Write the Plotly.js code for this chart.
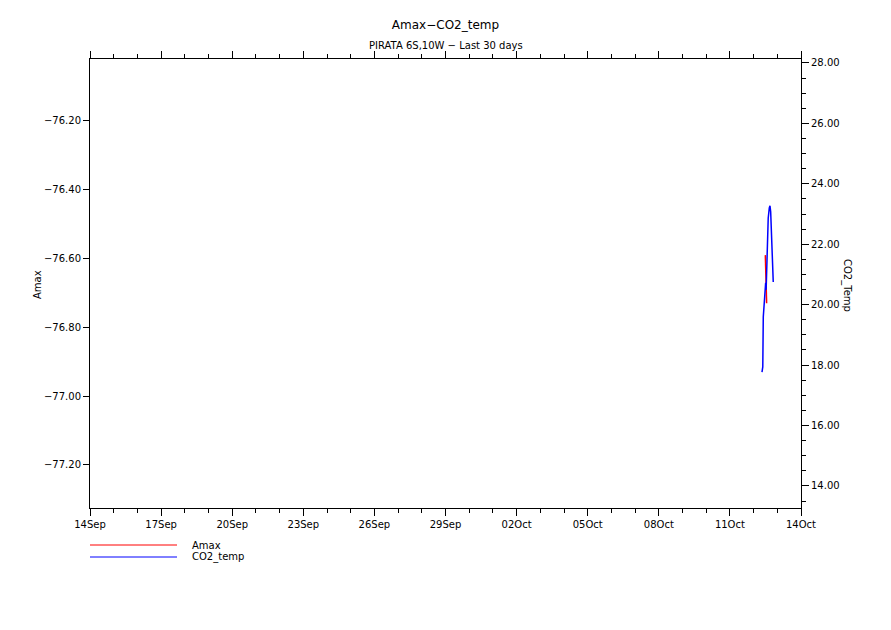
<!DOCTYPE html>
<html>
<head>
<meta charset="utf-8">
<script src="https://cdn.plot.ly/plotly-3.0.1.min.js"></script>
<style>html,body{margin:0;padding:0;background:#fff;}#chart{width:891px;height:630px;}</style>
</head>
<body>
<div id="chart"></div>
<script>
// Amax (left axis)
var amaxTime = ['2024-10-12 11:53', '2024-10-12 12:18', '2024-10-12 13:12'];
var amaxValue = [-76.590, -76.663, -76.730];

// CO2_temp (right axis)
var co2Time = ['2024-10-12 08:30', '2024-10-12 09:18', '2024-10-12 09:48', '2024-10-12 10:48',
               '2024-10-12 11:30', '2024-10-12 12:12', '2024-10-12 12:42', '2024-10-12 13:12',
               '2024-10-12 14:00', '2024-10-12 14:48', '2024-10-12 15:54', '2024-10-12 16:36',
               '2024-10-12 17:18', '2024-10-12 18:18', '2024-10-12 19:18', '2024-10-12 19:54'];
var co2Value = [17.77, 17.94, 19.59, 20.06, 20.32, 20.72, 20.49, 21.05,
                21.41, 22.87, 23.20, 23.27, 23.07, 22.37, 21.41, 20.75];

var xTickVals = ['2024-09-14','2024-09-17','2024-09-20','2024-09-23','2024-09-26','2024-09-29',
                 '2024-10-02','2024-10-05','2024-10-08','2024-10-11','2024-10-14'];
var xTickText = ['14Sep','17Sep','20Sep','23Sep','26Sep','29Sep','02Oct','05Oct','08Oct','11Oct','14Oct'];
var leftTicks = [-76.2, -76.4, -76.6, -76.8, -77.0, -77.2];
var rightTicks = [14, 16, 18, 20, 22, 24, 26, 28];

var FONT = 'DejaVu Sans, Liberation Sans, sans-serif';

var traces = [
  {x: amaxTime, y: amaxValue, type: 'scatter', mode: 'lines', name: 'Amax',
   line: {color: '#ff0000', width: 1.5}, yaxis: 'y', showlegend: false},
  {x: co2Time, y: co2Value, type: 'scatter', mode: 'lines', name: 'CO2_temp',
   line: {color: '#0000ff', width: 1.5}, yaxis: 'y2', showlegend: false}
];

var layout = {
  width: 891, height: 630,
  margin: {l: 90, r: 90, t: 59, b: 122, pad: 0},
  paper_bgcolor: '#ffffff', plot_bgcolor: '#ffffff',
  font: {family: FONT, size: 10, color: '#000'},
  showlegend: false,
  title: {text: 'Amax\u2212CO2_temp', x: 0.5, xref: 'container', xanchor: 'center',
          y: 1 - 25/630, yref: 'container', yanchor: 'middle',
          font: {family: FONT, size: 12, color: '#000'}},
  xaxis: {
    type: 'date', range: ['2024-09-14', '2024-10-14'],
    tickmode: 'array', tickvals: xTickVals, ticktext: xTickText,
    ticks: 'outside', ticklen: 7, tickcolor: '#000', tickwidth: 1,
    minor: {dtick: 86400000, tick0: '2024-09-14', ticks: 'outside', ticklen: 4, tickcolor: '#000', tickwidth: 1, showgrid: false},
    showline: true, linecolor: '#000', linewidth: 1, mirror: 'ticks',
    showgrid: false, zeroline: false,
    tickfont: {family: FONT, size: 10, color: '#000'}
  },
  yaxis: {
    range: [-77.325, -76.020],
    tickmode: 'array', tickvals: leftTicks, tickformat: '.2f',
    ticks: 'outside', ticklen: 6, tickcolor: '#000',
    showline: true, linecolor: '#000', linewidth: 1,
    showgrid: false, zeroline: false,
    tickfont: {family: FONT, size: 10, color: '#000'}
  },
  yaxis2: {
    overlaying: 'y', side: 'right', range: [13.27, 28.13],
    tickmode: 'array', tickvals: rightTicks, tickformat: '.2f',
    ticks: 'outside', ticklen: 7, tickcolor: '#000',
    minor: {dtick: 0.5, tick0: 14, ticks: 'outside', ticklen: 4, tickcolor: '#000', showgrid: false},
    showline: true, linecolor: '#000', linewidth: 1,
    showgrid: false, zeroline: false,
    tickfont: {family: FONT, size: 10, color: '#000'}
  },
  shapes: [
    {type: 'line', xref: 'paper', yref: 'paper', x0: 0, x1: 87/711, y0: -37/449, y1: -37/449,
     line: {color: '#ff0000', width: 1}},
    {type: 'line', xref: 'paper', yref: 'paper', x0: 0, x1: 87/711, y0: -49/449, y1: -49/449,
     line: {color: '#0000ff', width: 1}}
  ],
  annotations: [
    {text: 'PIRATA 6S,10W \u2212 Last 30 days', xref: 'paper', yref: 'paper', x: 0.5, y: (508-45)/449,
     xanchor: 'center', yanchor: 'middle', showarrow: false, font: {family: FONT, size: 10, color: '#000'}},
    {text: 'Amax', xref: 'paper', yref: 'paper', x: -53/711, y: (508-285)/449, textangle: -90,
     xanchor: 'center', yanchor: 'middle', showarrow: false, font: {family: FONT, size: 10, color: '#000'}},
    {text: 'CO2_Temp', xref: 'paper', yref: 'paper', x: 1 + 46/711, y: (508-285)/449, textangle: 90,
     xanchor: 'center', yanchor: 'middle', showarrow: false, font: {family: FONT, size: 10, color: '#000'}},
    {text: 'Amax', xref: 'paper', yref: 'paper', x: 100/711, y: -37/449,
     xanchor: 'left', yanchor: 'middle', showarrow: false, font: {family: FONT, size: 10, color: '#000'}},
    {text: 'CO2_temp', xref: 'paper', yref: 'paper', x: 100/711, y: -49/449,
     xanchor: 'left', yanchor: 'middle', showarrow: false, font: {family: FONT, size: 10, color: '#000'}}
  ]
};

Plotly.newPlot('chart', traces, layout, {displayModeBar: false, staticPlot: true});
</script>
</body>
</html>
